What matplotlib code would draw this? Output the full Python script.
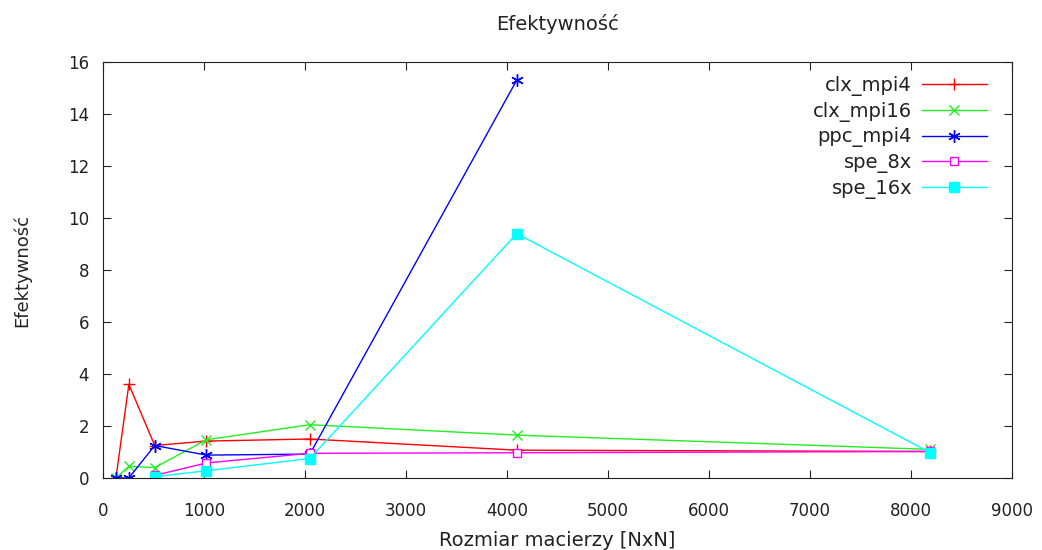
import matplotlib
matplotlib.use("Agg")
import matplotlib.pyplot as plt

# rozmiary macierzy
rozmiar = [128, 256, 512, 1024, 2048, 4096, 8192]

clx_mpi4 = [0.0, 3.6, 1.25, 1.42, 1.5, 1.07, 1.02]
clx_mpi16 = [0.0, 0.45, 0.4, 1.47, 2.05, 1.65, 1.1]
ppc_mpi4 = [0.0, 0.0, 1.25, 0.88, 0.92, 15.3]
spe_x = [512, 1024, 2048, 4096, 8192]
spe_8x = [0.1, 0.58, 0.95, 0.97, 1.02]
spe_16x = [0.05, 0.28, 0.75, 9.4, 0.97]

fig = plt.figure(figsize=(10.42, 5.5), dpi=100)
ax = fig.add_axes([103/1042, 72/550, 909/1042, 416/550])

ax.plot(rozmiar, clx_mpi4, color='red', marker='+', markersize=9, lw=1, label='clx_mpi4')
ax.plot(rozmiar, clx_mpi16, color='#22ee22', marker='x', markersize=7, lw=1, label='clx_mpi16')
ax.plot(rozmiar[:6], ppc_mpi4, color='blue', marker=(6, 2, 0), markersize=9, lw=1, label='ppc_mpi4')
ax.plot(spe_x, spe_8x, color='magenta', marker='s', markersize=6, mfc='white', lw=1, label='spe_8x')
ax.plot(spe_x, spe_16x, color='cyan', marker='s', markersize=7.5, lw=1, label='spe_16x')

ax.set_xlim(0, 9000)
ax.set_ylim(0, 16)
ax.set_xticks(range(0, 9001, 1000))
ax.set_yticks(range(0, 17, 2))
ax.tick_params(direction='in', top=True, right=True, length=6, labelsize=12, colors='#222222')
ax.tick_params(axis='y', pad=10)
ax.tick_params(axis='x', pad=17)
for s in ax.spines.values():
    s.set_color('#222222')

fig.text(557/1042, 1 - 24/550, "Efektywność", fontsize=14, ha='center', va='center', color='#222222')
fig.text(557/1042, 1 - 540/550, "Rozmiar macierzy [NxN]", fontsize=14, ha='center', va='center', color='#222222')
fig.text(22/1042, 1 - 270/550, "Efektywność", fontsize=13, rotation=90, ha='center', va='center', color='#222222')

leg = ax.legend(loc='upper right', bbox_to_anchor=(0.981, 0.9856), frameon=False,
                markerfirst=False, fontsize=14, handlelength=3.35, labelspacing=0.3,
                borderaxespad=0, handletextpad=0.5)
for t in leg.get_texts():
    t.set_color('#222222')

fig.savefig("out.png", dpi=100)
